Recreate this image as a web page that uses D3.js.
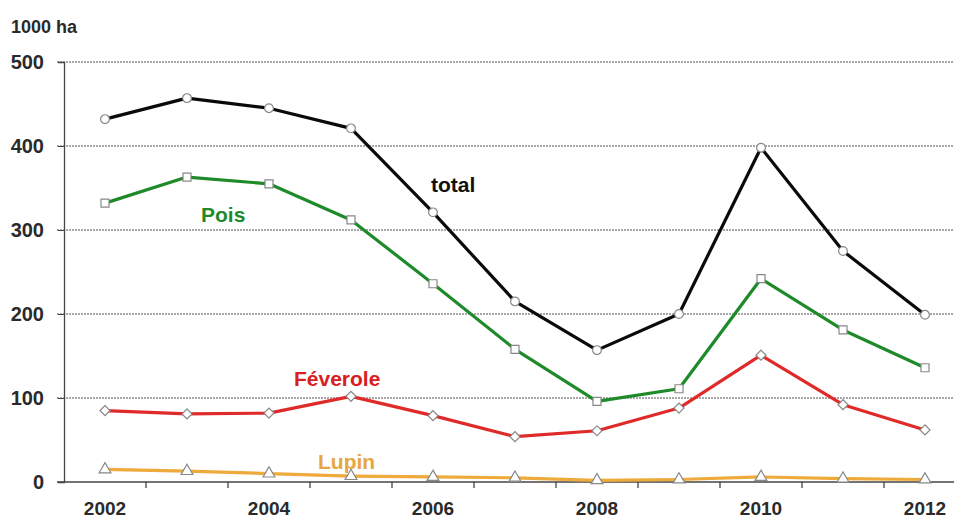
<!DOCTYPE html>
<html><head><meta charset="utf-8">
<script src="https://cdn.jsdelivr.net/npm/d3@7"></script>
<style>
body{margin:0;background:#fff;}
svg{display:block;font-family:Arial,"Liberation Sans",sans-serif;}
</style></head>
<body><svg id="c" width="954" height="518"></svg>
<script>
const years = [2002,2003,2004,2005,2006,2007,2008,2009,2010,2011,2012];
const yearLabels = ["2002","2004","2006","2008","2010","2012"];
const yTicks = [0,100,200,300,400,500];
const total    = [432,457,445,421,321,215,157,200,398,275,199];
const pois     = [332,363,355,312,236,158,96,111,242,181,136];
const feverole = [85,81,82,102,79,54,61,88,151,92,62];
const lupin    = [15,13,10,7,6,5,2,3,6,4,3];

const svg = d3.select("#c");
const x = d3.scaleBand().domain(years).range([64,966]).paddingInner(0).paddingOuter(0);
const cx = d => x(d) + x.bandwidth()/2;
const y = d3.scaleLinear().domain([0,500]).range([482,62]);

// grid
svg.append("g").selectAll("line").data(yTicks.filter(v=>v>0)).join("line")
  .attr("x1",57).attr("x2",954).attr("y1",d=>y(d)).attr("y2",d=>y(d))
  .attr("stroke","#8a8a8a").attr("stroke-width",1.3).attr("stroke-dasharray","2,1");

// y axis
const ya = svg.append("g").attr("transform","translate(64,0)")
  .call(d3.axisLeft(y).tickValues(yTicks).tickSize(6).tickPadding(14));
ya.select(".domain").attr("stroke","#444").attr("stroke-width",1.3);
ya.selectAll(".tick line").attr("stroke","#444");
ya.selectAll("text").attr("font-size",20).attr("font-weight","bold").attr("fill","#2a2a2a");

// x axis: ticks on category boundaries
const xa = svg.append("g").attr("transform","translate(0,482)");
xa.append("line").attr("x1",57).attr("x2",954).attr("stroke","#444").attr("stroke-width",1.3);
xa.selectAll("line.t").data(years.slice(1)).join("line").attr("class","t")
  .attr("x1",d=>x(d)).attr("x2",d=>x(d)).attr("y1",0).attr("y2",6)
  .attr("stroke","#444").attr("stroke-width",1.3);
xa.selectAll("text").data(yearLabels).join("text")
  .attr("x",d=>cx(+d)).attr("y",33).attr("text-anchor","middle")
  .attr("font-size",19).attr("font-weight","bold").attr("fill","#2a2a2a").text(d=>d);

svg.append("text").attr("x",11).attr("y",33).attr("font-size",18).attr("font-weight","bold")
  .attr("fill","#2a2a2a").text("1000 ha");

const line = d3.line().x((d,i)=>cx(years[i])).y(d=>y(d));
const series = [
  {name:"Lupin", vals:lupin, color:"#eeaa3a", shape:d3.symbolTriangle, size:60, rot:0, lx:318, ly:469, lc:"#e6a640"},
  {name:"Féverole", vals:feverole, color:"#e02a2a", shape:d3.symbolSquare, size:50, rot:45, lx:294, ly:386, lc:"#d82020"},
  {name:"Pois", vals:pois, color:"#1f8a2a", shape:d3.symbolSquare, size:64, rot:0, lx:201, ly:222, lc:"#1f8a2a"},
  {name:"total", vals:total, color:"#0a0a0a", shape:d3.symbolCircle, size:60, rot:0, lx:431, ly:192, lc:"#111"}
];
series.forEach(s=>{
  svg.append("path").attr("d",line(s.vals)).attr("fill","none")
    .attr("stroke",s.color).attr("stroke-width",3.2).attr("stroke-linejoin","round");
  svg.append("g").selectAll("path").data(s.vals).join("path")
    .attr("transform",(d,i)=>`translate(${cx(years[i])},${y(d)}) rotate(${s.rot})`)
    .attr("d",d3.symbol().type(s.shape).size(s.size)())
    .attr("fill","#fff").attr("stroke","#888").attr("stroke-width",1.2);
  svg.append("text").attr("x",s.lx).attr("y",s.ly).attr("font-size",21).attr("font-weight","bold")
    .attr("fill",s.lc).text(s.name);
});
</script></body></html>
